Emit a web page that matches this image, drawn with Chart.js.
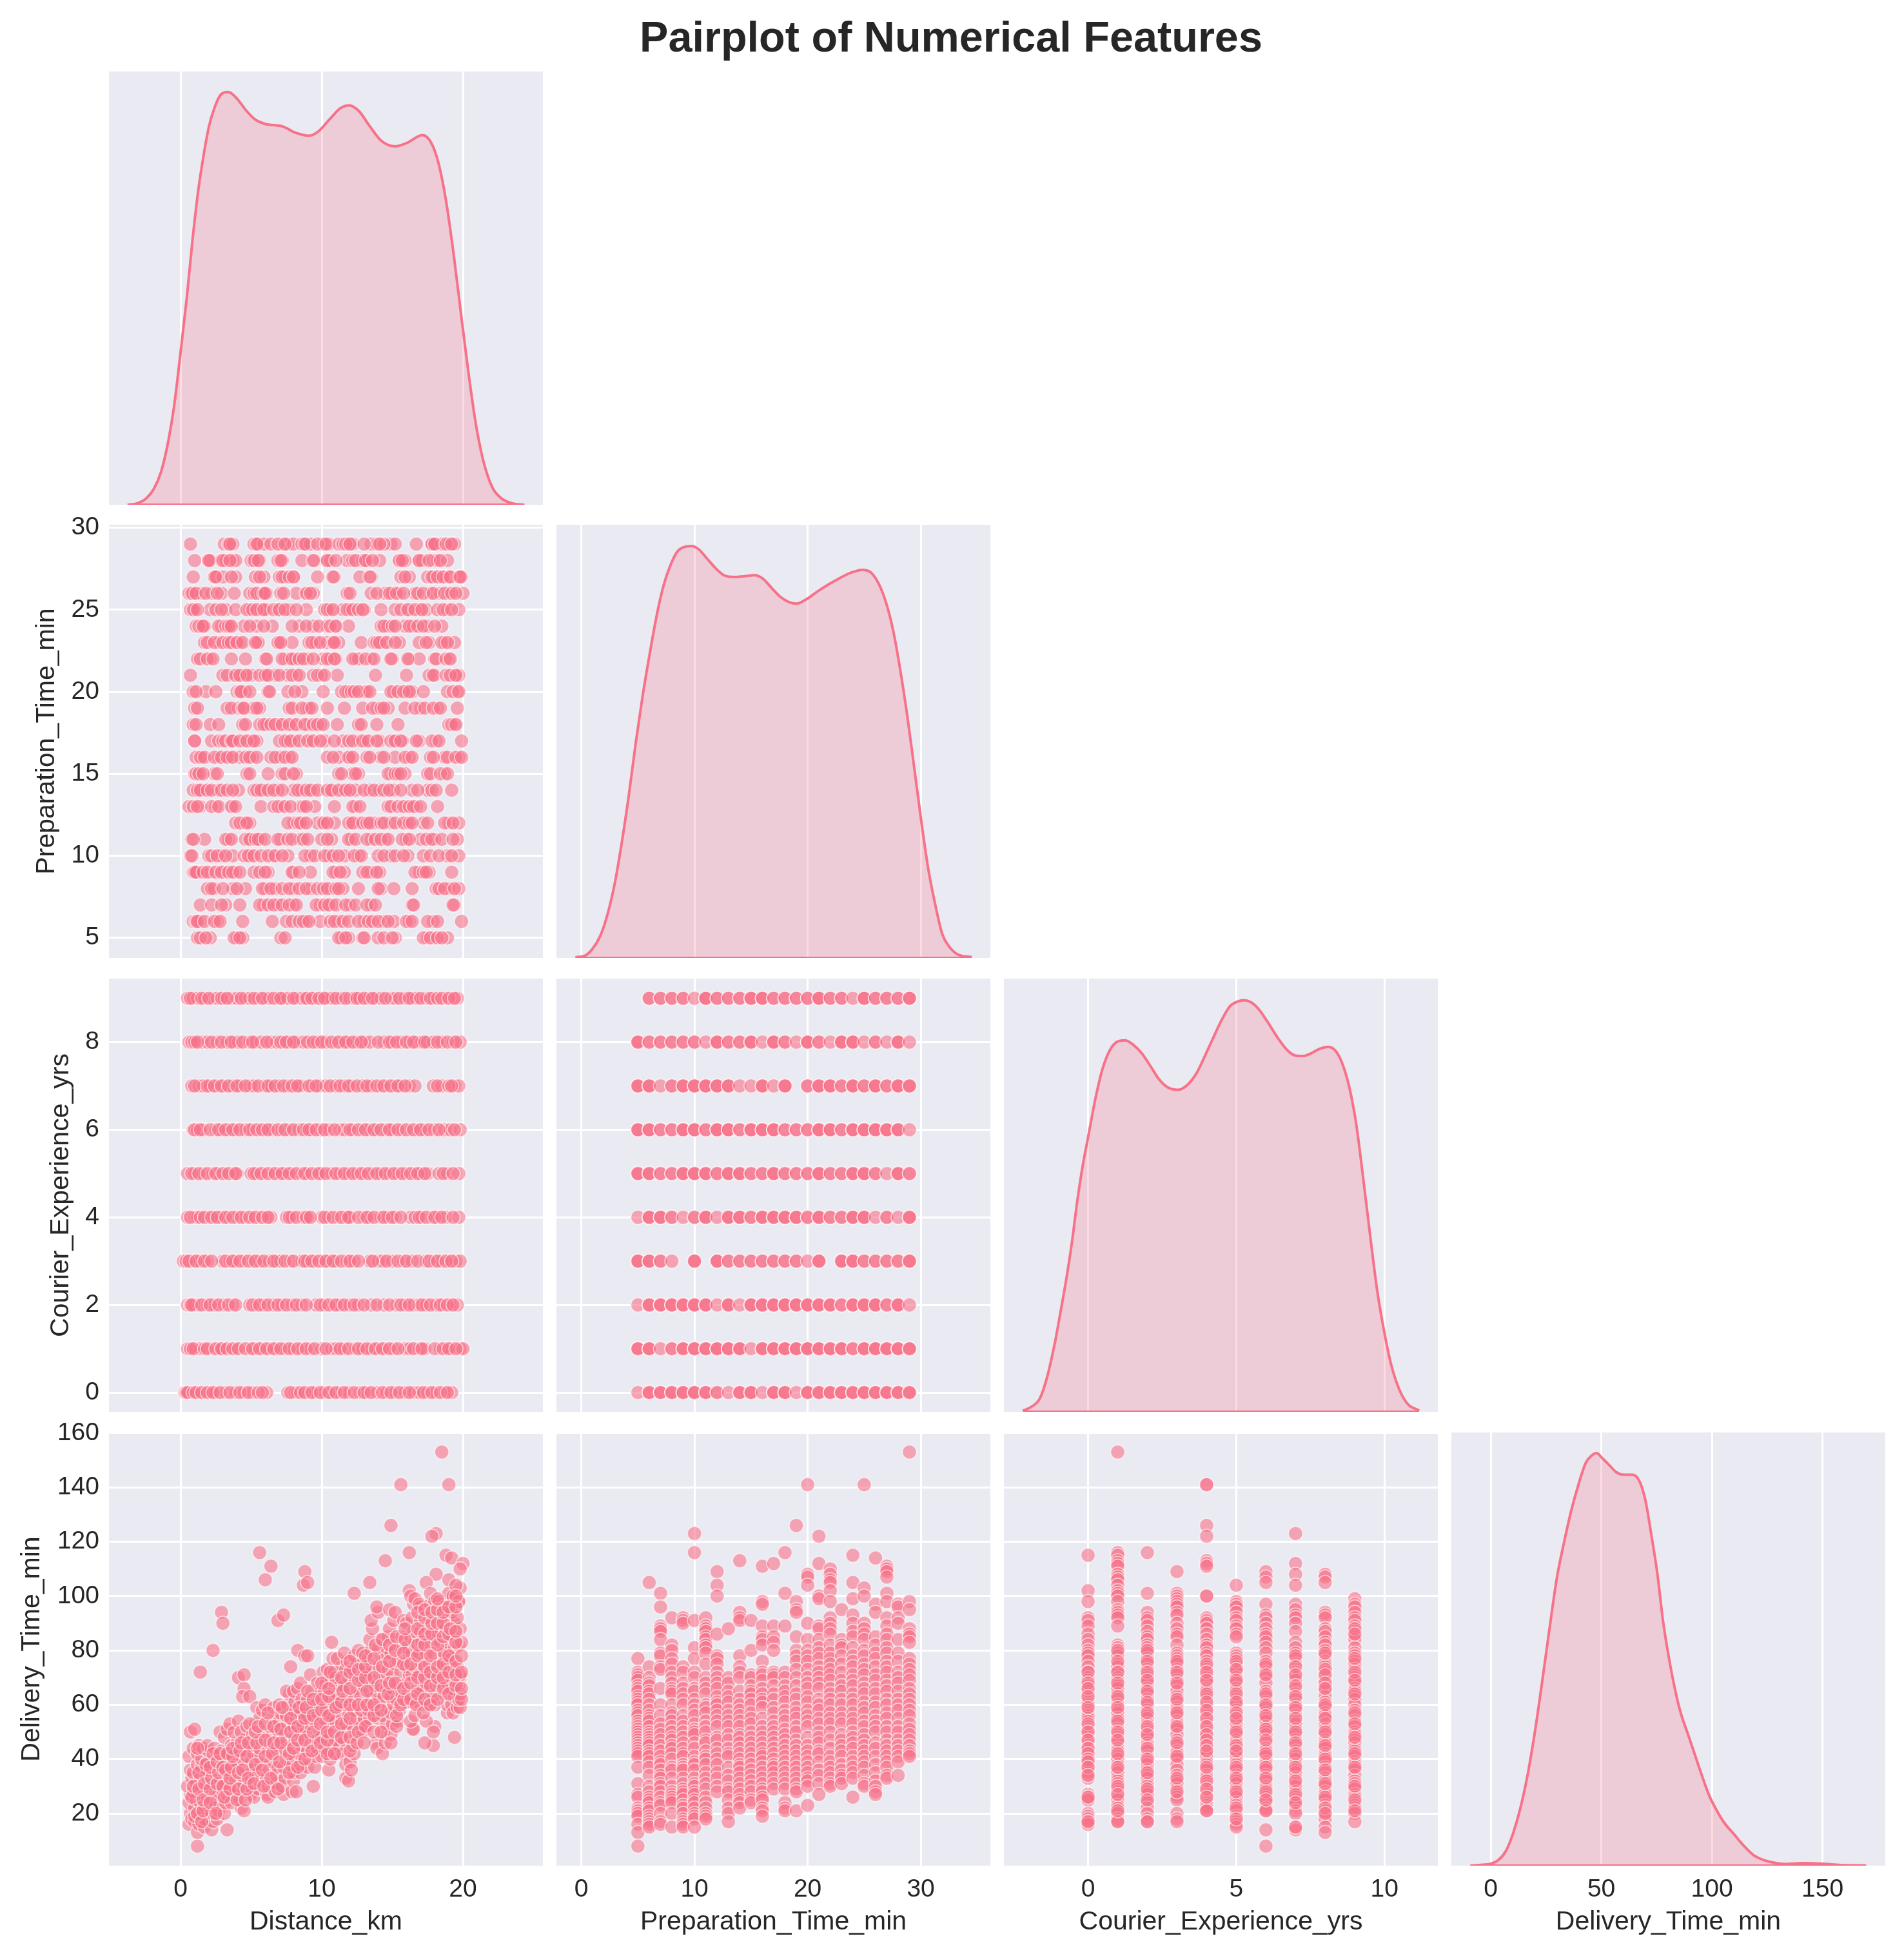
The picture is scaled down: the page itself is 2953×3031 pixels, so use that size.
<!DOCTYPE html>
<html><head><meta charset="utf-8">
<script src="https://cdn.jsdelivr.net/npm/chart.js@4"></script>
<style>
html,body{margin:0;padding:0;background:#fff;width:2953px;height:3031px;overflow:hidden}
canvas{position:absolute}
#t{position:absolute;left:0;top:21px;width:2950px;text-align:center;font:bold 66.6px "Liberation Sans",Arial,sans-serif;color:#262626;line-height:72px}
</style></head><body>
<div id="t">Pairplot of Numerical Features</div>
<script>
const featureNames=["Distance_km","Preparation_Time_min","Courier_Experience_yrs","Delivery_Time_min"];
const distanceTicks=[0,10,20],prepTicksX=[0,10,20,30],expTicksX=[0,5,10],deliveryTicksX=[0,50,100,150];
const prepTicksY=[5,10,15,20,25,30],expTicksY=[0,2,4,6,8],deliveryTicksY=[20,40,60,80,100,120,140,160];

const kdeDistanceX=[-3.75,-3.09,-2.44,-1.91,-1.39,-.87,-.47,0,.45,.84,1.23,1.63,2.02,2.41,2.8,3.38,3.98,4.64,5.29,5.95,7.26,8.18,9.1,9.75,10.54,11.32,11.93,12.63,13.42,14.21,15.2,16.04,17.14,17.75,18.27,18.79,19.32,19.84,20.37,20.89,21.42,22.07,22.73,23.51,24.35];
const kdeDistanceY=[0,.0002,.0009,.0022,.0046,.009,.0138,.0216,.0295,.0374,.0442,.0495,.0537,.0563,.058,.0585,.0576,.0559,.0546,.054,.0536,.0527,.0523,.0529,.0546,.0562,.0566,.0558,.0536,.0516,.0508,.0513,.0524,.0513,.0484,.0432,.0358,.0274,.019,.0117,.0064,.0025,.0009,.0002,0];
const kdePrepX=[-.52,.22,.97,1.71,2.33,2.95,3.56,4.18,4.8,5.42,6.04,6.65,7.28,7.9,8.5,9.13,9.75,10.4,11.1,11.86,12.6,13.47,14.46,15.3,16.06,16.8,17.55,18.3,19.03,19.9,20.9,21.9,22.87,23.86,24.85,25.6,26.3,26.96,27.57,28.2,28.8,29.43,30.05,30.67,31.3,31.9,32.5,33.27,34.5];
const kdePrepY=[.0001,.0002,.001,.0026,.005,.0084,.0129,.0182,.0242,.0296,.0343,.0386,.0421,.0444,.0459,.0464,.0465,.0461,.0451,.044,.0432,.043,.0431,.0432,.0428,.0418,.0408,.0402,.04,.0405,.0414,.0422,.0429,.0435,.0438,.0435,.0422,.04,.0369,.0324,.0274,.0214,.0154,.01,.0059,.0027,.0013,.0004,.0001];
const kdeExpX=[-2.2,-1.92,-1.63,-1.4,-1.12,-.93,-.74,-.55,-.36,-.17,0,.26,.49,.73,.96,1.25,1.53,1.81,2.1,2.38,2.67,3.04,3.37,3.66,3.94,4.22,4.51,4.8,5.04,5.27,5.5,5.78,6.07,6.4,6.73,7.01,7.25,7.53,7.81,8.1,8.34,8.57,8.81,9.05,9.28,9.52,9.75,9.99,10.23,10.51,10.79,11.17];
const kdeExpY=[.0003,.0014,.0038,.0094,.0198,.0286,.0378,.0483,.0607,.0711,.0787,.0903,.0984,.1036,.106,.1065,.1052,.1028,.0992,.0955,.0931,.0923,.0939,.0971,.102,.1072,.1124,.1164,.1176,.118,.1174,.1152,.1116,.1072,.1036,.1021,.102,.1028,.1041,.1046,.1036,.1,.0932,.0823,.0671,.0503,.035,.023,.0134,.0062,.0022,.0004];
const kdeDeliveryX=[-9.2,-5,0,3.55,6.84,10.1,13.4,16.7,20,23.3,26.6,29.9,33.2,36.4,39.7,43,45.7,47.9,50.3,53.6,56.8,60.1,64.1,67.4,70,72.6,75.3,77.9,80.5,83.2,85.8,89.1,92.4,95.7,98.9,102.2,105.5,110.1,114.7,118.7,123.3,127.9,133.2,141,150.3,158,169.7];
const kdeDeliveryY=[0,.00003,.00008,.00024,.00061,.00135,.0024,.0038,.0056,.0077,.0099,.012,.0135,.0148,.0159,.0168,.0171,.0172,.017,.0167,.0164,.0163,.0163,.016,.0152,.0138,.0122,.0102,.0087,.0074,.0064,.0055,.0046,.0037,.0029,.0023,.0018,.0013,.0008,.00045,.00024,.00013,.00007,.00011,.00008,.00003,.00001];

const prepRowLevels=[29,28,27,26,25,24,23,22,21,20,19,18,17,16,15,14,13,12,11,10,9,8,7,6,5];
const distAtPrep=[
[.7,3.1,3.4,3.7,5.2,5.5,5.9,6.4,7.2,7.6,8,8.6,8.9,9.2,10.1,10.5,11.2,11.5,11.9,12.2,13.5,13.9,14.9,15.2,16.7,17.8,18,18.5,19,19.4],
[1,2,2.1,2.9,3.2,3.7,3.9,5,5.3,5.6,6.9,7.2,8.6,9.5,10.4,10.6,11.8,12.2,12.9,13.2,14.1,15.5,15.9,16.9,17.1,17.9,18.2,18.9],
[.9,2.4,2.4,3,3.9,5.3,5.9,7,7.4,8,9.7,10.9,12.7,13.5,15.6,16.2,17.5,17.9,18.4,18.8,19,19.7,19.9],
[.6,.9,1.5,2.2,2.9,3.8,4.9,5.2,5.7,6.1,7.1,8.2,9,9.4,11.8,13.5,14.5,15,15.5,16.6,17.7,18.4,19,20],
[.7,1,2.1,2.5,3.2,3.9,4.9,5.7,6.1,6.9,7.7,8.9,10.2,10.6,11.5,12,13,14.2,15.2,16.2,16.9,17.4,18.2,18.9,19.7],
[1.1,1.5,1.7,2.9,3.5,4.5,5.4,6.5,8.4,9.4,10.4,10.9,11.9,14.2,14.7,15.9,16.5,17.5,18.5],
[1.7,2.7,3.2,3.9,4.2,5.4,5.5,7,7.9,9.1,9.6,10.4,11.2,12.8,13.7,14.4,15.5,16.9,17.6,18.7,19.4],
[1.2,2.1,3.6,4.6,6,7.4,7.7,8.1,9,10.1,10.6,11,12.4,12.6,13.5,15,16.2,16.9,18,19],
[.7,3,4,4.5,5,5.9,6.7,7.6,8.2,9.4,10,11.1,13.8,16,17.6,18,19.4,19.7],
[.9,1.8,2.5,4,4.6,6.2,7.6,8.6,10.1,11.4,11.9,13,13.2,15.1,16,16.4,17.2,18.9,19.6],
[1,3.3,4.1,5.2,5.6,7.7,8.9,9.1,10.4,11.6,12.9,13.9,14.7,15.9,17,18.2,19.6],
[.9,2.1,2.7,4.4,5.6,6.1,7,8,9,9.9,11.1,12.6,13.9,15.4,19,19.4],
[1,2.2,2.7,3.5,4.5,5,5.4,7,7.6,8.1,9.2,10.2,11.5,12.7,13.1,14.1,15.1,15.7,16.9,18.1,19.9],
[1.1,1.5,2.7,3.5,4.2,5.1,6.4,7.1,7.7,10.4,11.2,12,13.2,14.2,15.2,16.2,17.7,18.7,19.7],
[1,1.4,2.4,4.7,6.2,7.2,8.2,11.2,12.2,12.6,14.9,15.1,15.9,17.5,18.7],
[.9,1.5,1.7,2.7,4.1,5.2,5.9,6.9,8,8.6,9.4,10.6,11.5,12.4,13.4,14.1,15.1,16.4,17.5,19.2],
[.6,1.4,2.5,3.7,5.7,6.6,7.2,8.5,9.5,10.9,12.4,14.7,16,16.7,18.2],
[3.9,4.5,4.9,8,8.7,9.7,10.2,10.9,12.2,12.7,13.7,14.9,16,17.2,19,19.7],
[.8,1.7,3.4,5,5.7,7.1,8.5,10,10.7,12.1,13.5,14.5,16,17,18,19.6],
[.7,2,2.9,3.7,5,6.5,7.6,9.2,10.5,11.6,12.6,14,14.9,16.1,17.2,18.9,19.7],
[.9,1.2,2.2,3.1,3.9,5.2,6.2,8,9.2,11,11.6,13.5,14.1,16.9,17.6,19.2],
[1.9,2.4,3.7,4.6,6,6.7,8,9.2,10.7,11.5,12.6,14.2,15.1,16.4,18.1,19,19.7],
[1.4,2.2,3.2,4.2,5.9,6.9,8,9.9,10.7,12,13.5,16.4,19.4],
[.9,1.4,2.6,4.4,6.5,7.5,8.9,9.9,11.2,13,14.4,15.1,16.2,17.9,19.9],
[1.2,2.1,4,4.4,7.1,11.4,11.9,12.9,14,15.2,17.5,18,18.9]];
const distAtPrepHidden=[
[3.5,5.4,6.9,7.4,8.8,9.7,10.3,11.7,12,13,14.4,14.1,17.8,18,18.8,19.2],
[2,3,3.5,5.2,5.5,7.1,9.4,10.4,11,12.4,13.1,13.6,15.5,15.7,16.9,17.6,18.4],
[2.5,3.6,5.6,7.2,7.7,8,10.8,13.4,15.9,17.8,18.2,18.6,19.1,19.8],
[.8,1.1,1.8,2.6,5.4,5.9,6,7.3,8.9,9.2,12,13.9,14.8,15.3,15.8,16.8,17.2,17.9,18.7,19.2,19.5],
[.9,1.2,2.9,4.7,5.1,5.4,5.9,6.6,7,7.4,8.2,10.4,10.8,11.8,12.2,12.6,12.9,15.6,16.1,16.6,17.1,18.6,19.2],
[1.3,1.6,2.7,3.2,3.4,3.6,4.9,5.9,7.9,8.9,9.8,10.6,11,14.4,15,15.2,16.2,16.8,17.2,18],
[1.9,2.4,3,3.4,3.6,4,4.4,5.3,6.9,7.1,9.3,9.9,10.8,10.9,13.9,14.1,14.6,15.2,17.4,18.5,18.9],
[1.4,1.9,2.3,6.1,7.2,7.9,8.4,8.7,9.4,10.4,10.9,12.2,13.1,13.7,14.9,16.1,18.1,18.8,19.1],
[3.3,3.9,4.2,4.7,5.6,6,6.2,7,7.9,8.4,9.7,10.2,17.9,18.8,19.1,19.5],
[1.1,4.2,4.3,4.9,6.3,8.1,11.7,12.1,12.3,12.6,13.4,14.9,15.4,15.8,16.2,19.3,19.7],
[1.2,3.6,4.4,4.5,5.4,7.9,8.6,9.3,13.6,14.2,14.4,16.6,17.3,17.9,18.4],
[1.1,4.6,5.9,6.4,6.7,7.2,7.7,8.2,8.8,9.4,9.7,10.1,12.8,19.2,19.5],
[1,3,3.2,3.6,3.7,4.2,4.7,5.2,7.4,7.8,8.4,9,9.4,9.9,10.9,11.9,12.2,12.9,13.3,13.9,14.9,15.2,15.6,16.7,17.8,18.3],
[1.4,1.7,2.4,2.9,3.3,3.7,4.6,4.9,5.4,6.7,7.4,7.9,10.8,11.9,12.2,13.4,14.4,15.9,16.4,17.9,18.9,19.5,19.9],
[1.1,1.3,1.6,2.6,4.9,7.4,8,11.4,12.4,14.7,15.2,15.4,15.6,17.7,18.4,18.9],
[1.2,1.4,1.9,2.2,2.9,3.3,3.7,5.4,5.7,6.2,6.6,7.2,8.3,8.9,9.2,9.7,10.4,10.7,11.2,11.7,12,13,13.7,14.4,14.8,15.6,16.8,17.8,18.1],
[.9,1.2,2.2,2.7,3.6,3.9,6.9,7.4,7.8,8.7,8.9,12.2,12.7,14.9,15.4,15.8,16.2,16.5,17],
[4.2,4.7,7.6,8.3,8.5,8.9,10.1,10.4,11.9,12.2,12.9,13.2,13.4,14.2,14.4,15.2,15.8,16.2,16.4,17.5,18.7,19.3],
[.9,3.2,3.6,4.6,4.9,5.3,5.5,6,6.9,7.6,7.9,8.7,9,10.4,11.9,12.4,13.2,13.8,14.2,14.7,15.7,16.2,17.4,17.8,18.5,19.3],
[.8,2.2,2.6,3.2,4.5,4.8,5.2,5.7,6.2,6.7,7.2,8.8,9.5,10.2,10.8,11.2,12.3,12.8,14.4,15.2,15.8,17.7,18.3,19.2],
[1,1.1,1.6,1.9,2.5,2.9,3.4,3.7,4.2,5.6,6,7.9,8.4,10.8,11.3,12.9,13.2,13.9,16.6,17.2,17.4],
[2.2,3,4,5.8,6.4,7.2,7.7,8.4,8.9,9.7,10.1,10.4,11,11.2,14,18.3,18.7,19.4],
[2.9,5.6,6.2,6.6,7.2,7.7,8.2,9.6,10.2,10.5,11,11.7,12.4,13.2,13.8,16.5,19.3],
[1.1,1.2,1.7,2.4,2.8,7.9,8.4,8.7,9.1,10.6,10.9,11.5,11.9,12.6,13.3,13.6,14,14.7,16,16.4,17.5,18.2],
[1.4,1.8,3.8,4.2,7.4,11.2,11.7,13,14.4,15,17.2,17.7,18.2,18.5]];

const expRowLevels=[9,8,7,6,5,4,3,2,1,0];
const distAtExp=[
[.5,.9,1.2,1.7,2.3,2.6,3.1,3.6,4,4.6,4.9,5.5,6,6.3,6.9,7.3,7.6,8.2,8.6,9,9.5,10,10.4,10.7,11.4,12,12.3,12.7,13.3,13.8,14.2,14.9,15.2,15.9,16.4,16.7,17.4,17.9,18.8,19.2,19.6],
[.6,1.5,1.9,2.6,3.3,3.8,4.1,4.9,5.3,5.7,6.4,6.8,7.3,7.7,8.2,8.7,9,9.7,10.3,11,11.5,11.9,12.5,13,13.4,14.4,15,15.6,16.2,16.7,17.1,17.5,17.9,18.5,19.3,19.8],
[.8,1.3,1.6,2.1,2.6,3.1,3.7,4.2,4.9,5.2,6,6.4,7,7.6,8.1,8.5,9.3,9.8,10.3,11,11.6,12.1,12.9,13.5,14.2,14.7,15.2,15.6,16.2,16.6,17.9,18.5,19.4,19.7],
[.9,1.2,1.6,2.5,2.9,3.4,3.9,4.6,5.1,5.6,6,6.5,7.2,7.7,8.4,8.9,9.3,9.9,10.5,11.3,11.6,12.2,12.9,13.4,13.9,14.5,15,15.7,16.3,16.8,17.3,18,18.7,19.1,19.8],
[.5,1,1.6,2.3,2.7,3.2,3.7,4,5,5.4,5.9,6.5,7,7.4,7.9,8.6,9,9.6,10,10.7,11.3,11.9,12.5,13,13.6,14.2,14.8,15.4,16,16.6,17,17.5,18.3,18.9,19.7],
[.5,1,1.2,2,2.4,2.9,3.4,4,4.6,5.1,5.6,6,6.4,7.5,7.9,8.7,9,10,10.5,11.2,11.7,12,13,13.4,14.2,14.7,15.2,16.3,16.6,17.1,17.8,18.2,18.8,19.7],
[.2,.9,1.4,1.9,3,3.5,3.9,4.5,5.1,5.6,6.3,6.8,7.1,7.8,8.6,9,9.5,10.1,10.5,11,11.8,12.3,13.4,14,14.3,15,15.8,16.4,17.4,18,18.5,19,19.5,19.8],
[.5,1,1.3,1.9,2.4,3.1,3.7,4.9,5.4,5.9,6.6,7.2,7.9,8.6,9.6,10.2,10.8,11.3,12,12.6,13.5,14.4,15.3,15.9,16.5,16.9,17.4,18.1,18.6,19.1,19.6],
[.5,1.1,1.4,2.3,2.7,3,3.9,4.9,5.3,5.8,6.3,6.8,7.4,8,8.6,9.2,10,10.7,11,11.6,12.4,12.9,13.5,14,14.5,15.1,15.9,16.2,16.9,17.3,18.4,18.8,19.2,19.8,20],
[.3,.6,1.3,1.7,2.1,2.5,3.2,3.9,4.5,5.1,6.1,7.6,8.1,8.3,9.1,9.6,10.2,10.7,11.3,11.9,12.7,13.2,13.9,14.6,15.2,15.9,16.5,16.9,17.5,18.1,18.7,19.2]];
const distAtExpHidden=[
[.7,1.5,2,2.9,3.3,4.3,5.2,5.8,6.6,7.1,8,8.9,9.3,9.8,10.2,11,11.7,12.5,13,13.6,14.5,15.5,16.2,17,17.7,18.2,18.5,19,19.4],
[.8,1,1.2,2.2,2.9,3.6,4.4,5.1,6.1,7.1,7.5,8,9.4,10,10.7,11.2,11.7,12.2,12.8,14,14.8,15.3,16,16.5,17.3,18.2,18.9,19.5],
[1,1.9,2.4,2.9,3.4,4,4.6,5.5,6.2,6.7,7.3,7.9,8.3,9.1,9.6,10.6,11.3,11.9,12.5,13.2,13.9,14.4,14.9,15.4,15.9,18.2,19,19.2],
[1,1.4,2.1,2.7,3.2,3.7,4.2,4.9,5.4,5.8,6.2,6.9,7.4,8,8.7,9.1,9.6,10.2,10.9,12,12.6,13.1,13.7,14.2,14.8,15.4,16,16.5,17,17.6,18.3,19.4],
[.8,1.3,1.9,2.5,3,3.4,3.9,5.2,5.7,6.2,6.7,7.2,7.7,8.2,8.8,9.3,9.8,10.3,11,11.6,12.2,12.8,13.3,13.9,14.5,15.1,15.7,16.3,16.8,17.3,18.6,19.3],
[.7,1.4,1.7,2.2,2.6,3.2,3.7,4.3,4.9,5.3,5.8,6.2,7.7,8.2,8.9,9.2,10.2,10.8,11.4,11.9,12.6,13.2,13.7,14.4,15,15.6,16.9,17.4,18,18.5,19.3],
[.4,.6,1.1,1.7,2.2,3.2,3.7,4.2,4.8,5.3,5.9,6.6,7.4,8,8.8,9.3,9.8,10.3,10.8,11.4,12,12.6,13.6,14.6,15.4,16,16.8,17.6,18.2,18.8,19.2],
[.7,.8,1.5,2.1,2.7,3.4,3.9,5.1,5.6,6.2,6.9,7.5,8.2,8.9,9.9,10.5,11,11.6,12.3,13,13.9,14.8,15.6,16.2,17.1,17.7,18.4,18.9,19.3],
[.7,.9,1.7,1.9,2.5,2.9,3.3,3.7,4.1,4.6,5.1,5.6,6.1,6.6,7.1,7.7,8.3,8.9,9.5,10.3,11.3,11.9,12.6,13.2,13.8,14.3,14.8,15.4,16.5,17.1,18,18.6,19,19.5],
[.4,.5,.9,1.1,1.5,1.9,2.3,2.8,3.5,4.2,4.8,5.5,5.8,7.8,8.5,8.8,9.3,9.9,10.5,11,11.6,12.3,13,13.5,14.3,14.9,15.5,16.2,17.2,17.8,18.4,18.9]];

const prepMinutes=[5,6,7,8,9,10,11,12,13,14,15,16,17,18,19,20,21,22,23,24,25,26,27,28,29];
const prepCountsAtExp=[
[0,2,2,2,2,1,3,2,2,2,3,3,2,2,2,2,3,2,2,1,3,2,2,2,3],
[3,2,2,2,2,2,1,3,2,2,3,1,3,2,1,3,2,1,3,3,1,2,1,3,1],
[3,3,1,2,3,3,3,3,3,1,1,3,1,3,0,2,3,3,2,3,2,3,2,3,3],
[3,3,2,2,3,3,2,3,3,2,3,3,3,2,2,2,3,3,2,3,3,3,3,3,1],
[3,3,2,2,3,3,3,2,3,3,2,2,3,2,2,2,3,2,2,3,3,2,1,3,2],
[1,3,3,2,1,2,3,1,3,3,2,3,3,3,3,2,3,2,2,3,3,1,2,1,3],
[3,3,2,1,0,3,0,3,2,2,2,2,2,2,2,1,3,0,3,3,2,2,2,2,3],
[1,3,3,3,3,3,3,1,3,1,3,3,3,3,3,3,3,3,2,3,3,3,2,3,1],
[3,3,1,2,3,3,3,3,3,3,1,3,3,3,3,3,3,3,3,2,3,3,3,3,3],
[1,3,3,3,3,3,3,2,1,3,3,1,3,3,1,3,3,3,3,3,3,3,3,3,3]];

const delAtPrep=[
[77,72,71,70,69,67,66,65,63,62,61,60,58,57,56,54,53,52,51,50,49,48,47,46,45,44,43,42,41,37,31,27,26,22,21,20,19,16,13,8],
[105,74,70,68,67,65,64,62,60,58,56,55,54,52,50,49,48,47,46,45,43,42,41,39,37,34,30,28,26,25,24,22,21,19,18,17,16,15],
[101,96,89,88,87,84,79,78,74,73,66,60,56,53,51,49,47,45,43,41,39,38,36,34,33,31,30,28,26,24,23,20,17,16],
[92,82,80,77,75,72,70,68,66,65,64,60,57,56,54,52,50,48,47,45,44,42,40,37,36,33,30,28,27,26,25,24,20,15],
[92,91,90,74,72,68,66,64,62,60,56,54,52,50,48,46,44,42,41,38,37,36,33,31,29,28,27,25,23,22,20,18,17,16,15],
[123,116,91,81,77,72,70,66,65,62,60,58,56,53,51,50,49,46,44,41,39,38,36,33,31,30,28,27,25,24,22,20,19,18,15],
[92,89,88,87,85,84,82,81,79,75,70,68,66,64,60,59,57,54,52,50,47,46,43,41,40,38,35,33,31,29,26,24,22,20,19,18],
[109,104,100,86,78,77,75,72,70,68,66,63,61,60,58,56,54,52,48,47,44,42,40,38,35,33,30,28],
[88,70,68,65,63,61,58,56,54,52,49,47,44,42,41,37,34,32,29,28,25,22,20,17],
[113,94,92,91,78,74,72,70,65,62,60,58,56,54,52,49,48,46,44,42,40,38,37,35,33,31,29,27,25,24,22],
[91,80,71,70,67,65,64,62,60,57,55,53,50,48,46,44,42,40,38,36,34,32,30,28,25,24],
[111,98,97,89,85,84,82,76,72,71,69,66,64,62,61,59,55,52,50,48,46,44,42,41,39,37,35,33,31,29,28,26,25,22,21,19],
[112,89,85,83,80,72,71,70,67,64,62,59,57,54,52,50,48,46,44,42,40,38,37,35,33,31,29],
[116,101,89,72,70,67,65,63,61,58,56,54,51,49,47,45,43,41,39,37,35,33,31,29,24,22,21],
[126,98,95,94,85,80,78,76,73,70,67,64,62,59,57,55,52,50,47,45,43,41,39,37,35,33,31,29,28,21],
[141,108,107,104,90,84,80,78,76,73,70,68,66,63,61,58,56,54,52,48,45,43,41,39,37,35,33,32,30,23],
[122,112,100,99,89,88,84,81,79,77,74,72,70,68,66,62,60,58,55,53,50,48,46,43,42,39,36,34,31,27],
[110,108,106,105,102,98,92,90,88,86,82,79,77,75,73,71,69,66,64,62,60,57,55,53,50,47,44,41,39,37,35,33,31,30],
[95,84,82,81,78,75,72,69,67,65,62,60,57,55,53,49,47,45,43,41,38,36,34,33,31],
[115,105,99,93,90,87,85,81,78,76,74,71,69,67,64,62,60,57,55,53,50,48,46,44,41,39,37,35,33,26],
[141,103,100,90,88,86,84,80,78,75,73,71,68,66,64,61,59,57,54,52,49,47,45,43,41,39,37,34,31,30],
[114,97,94,85,82,79,77,74,71,69,66,64,61,59,56,54,52,50,46,44,41,38,35,32,30,28,27],
[111,110,109,107,101,98,92,89,86,84,81,79,76,74,72,69,67,65,62,60,57,55,52,50,47,45,43,41,39,37,34,33],
[97,96,92,90,84,79,76,72,70,68,65,62,60,58,55,52,50,47,45,43,41,39,34],
[153,98,95,88,86,85,83,77,75,73,71,69,66,64,62,60,58,56,53,51,49,47,45,43,42,41]];

const expYears=[0,1,2,3,4,5,6,7,8,9];
const delAtExp=[
[115,102,98,92,91,89,86,84,82,80,79,78,76,74,72,70,69,67,65,64,62,61,60,58,57,56,55,54,52,51,50,49,48,47,46,45,44,43,41,40,38,37,36,35,33,27,26,25,20,19,18,17,16,72,68,66,63,59,53,50,47,44,42,40,39,37,34,17,26],
[153,116,115,113,112,111,108,107,106,104,102,101,100,98,95,94,93,92,89,82,81,79,78,75,74,72,70,69,67,66,64,62,60,58,57,55,53,51,49,48,46,44,43,41,40,38,36,35,33,32,31,29,28,26,25,23,22,20,18,17,17,80,76,72,68,63,59,54,50,47,42,37,30,27,21],
[116,101,94,92,91,89,87,85,84,82,81,79,77,75,73,71,70,68,66,64,62,60,58,56,55,53,51,50,48,46,45,43,41,39,38,36,34,33,31,30,28,27,24,22,20,18,17,17,80,76,72,69,65,61,57,52,49,44,40,35,29,25],
[109,101,100,99,98,97,96,94,93,90,88,86,85,82,79,78,77,75,73,71,69,67,65,63,61,59,58,56,54,53,51,49,47,45,43,42,40,38,36,34,32,31,29,27,26,25,20,18,17,76,72,68,62,57,52,46,41,33,28],
[141,141,126,122,113,112,111,100,100,92,91,90,88,86,84,82,81,79,78,76,74,73,71,70,68,66,65,63,62,60,59,57,56,54,53,51,50,48,46,44,42,41,39,38,36,34,33,31,30,28,27,25,24,23,22,21,21,75,72,69,64,61,58,55,52,49,47,45,43,37,32,29,26],
[104,98,97,96,94,92,91,89,88,86,85,79,78,77,75,74,72,70,68,66,65,63,62,60,58,56,54,53,51,49,47,46,44,42,41,39,38,36,34,32,31,29,27,26,24,23,21,19,17,16,15,76,73,69,64,61,57,55,50,45,43,37,33,28,22,18],
[109,107,105,97,93,92,90,88,86,85,83,81,79,76,74,72,70,68,65,63,61,59,57,55,54,52,50,49,46,44,43,41,39,38,36,34,32,30,29,27,26,24,22,21,21,14,8,75,71,64,60,56,51,47,42,37,33,28,25],
[123,112,108,104,97,95,93,92,90,87,83,81,79,77,75,72,70,69,66,64,62,60,58,56,54,53,51,49,47,45,43,41,40,38,36,35,33,31,30,28,26,25,23,21,20,15,14,78,74,71,67,63,59,55,50,46,42,37,32,27,24,15],
[108,107,105,94,93,92,88,87,85,83,82,80,78,76,75,74,72,70,69,67,65,63,61,59,57,56,53,51,49,47,46,44,42,41,39,37,35,33,32,30,28,27,25,23,21,19,18,15,13,79,73,71,68,66,60,55,50,45,40,36,31,26,22,20],
[99,97,96,94,92,91,89,87,85,84,81,79,78,76,75,73,71,70,68,66,65,63,62,60,58,56,54,52,50,49,47,46,44,43,41,39,38,36,34,32,31,29,27,26,24,23,22,20,17,88,86,77,72,69,64,57,53,48,42,37,30,25,21]];

const distDeliveryPairs=[18.5,153,19,141,15.6,141,14.9,126,18.1,123,17.8,122,16.2,116,5.6,116,6.4,111,6,106,8.8,109,8.7,104,9,105,12.3,101,13.4,105,14.5,113,2.9,94,3,90,2.3,80,1.4,72,6.9,91,7.3,93,8.3,80,8.8,78,9,78,7.8,74,10.7,83,4.1,70,4.5,71,4.5,66,4.4,63,4.9,63,.7,50,1,51,1.2,8,3.3,14,9.4,30,19.4,48,17.9,45,17.3,46,18,52,18.8,115,19.2,114,20,112,19.8,110,18.1,108,19,106,19.8,103,17.4,105,16.2,102,19.2,100,19.7,98,
.6,16,.7,20,.6,24,.7,27,.5,30,.8,33,.7,36,.6,41,.9,44,.8,18,1,17,1,22,1.1,25,.9,28,1.1,31,.9,35,1.2,38,1.2,42,1.3,45,1.2,13,1.3,16,1.4,19,1.4,24,1.5,27,1.5,29,1.4,33,1.5,37,1.5,40,1.6,44,1.7,15,1.7,18,1.8,21,1.7,23,1.9,26,1.8,30,1.8,34,1.9,36,1.9,39,2,43,1.9,45,
2.2,14,2.3,17,2.2,20,2.4,22,2.3,25,2.5,28,2.3,31,2.5,35,2.4,38,2.6,41,2.4,44,2.6,18,2.7,21,2.8,24,2.7,27,2.9,29,2.8,33,2.9,36,2.8,37,3,40,2.9,43,2.8,50,3.1,48,3.1,20,3.2,24,3.3,27,3.2,31,3.4,34,3.3,38,3.5,41,3.4,42,3.6,45,3.3,51,3.5,53,3.7,27,3.6,24,3.8,30,3.9,32,3.8,36,4,39,3.9,43,4,46,3.8,50,4.1,54,
4.2,25,4.3,22,4.5,21,4.4,28,4.5,31,4.3,34,4.6,37,4.4,40,4.6,43,4.5,47,4.3,50,4.7,52,5,27,4.9,30,5,33,5.1,36,5,39,5.2,42,5,45,5.1,49,5.3,53,5.4,59,5.2,26,5.5,29,5.6,32,5.5,35,5.7,38,5.5,41,5.6,44,5.7,47,5.9,50,5.6,55,5.8,58,6,60,
6.1,27,6.2,26,6.2,30,6.1,33,6.3,36,6.4,39,6.2,43,6.3,46,6.5,49,6.3,52,6.5,55,6.6,59,6.7,28,6.8,31,6.8,34,6.9,37,6.7,42,6.9,45,7,48,6.8,51,7,54,7.1,57,7,60,7.3,27,7.2,30,7.4,33,7.3,37,7.5,40,7.4,43,7.5,47,7.4,50,7.6,53,7.5,56,7.6,60,7.7,64,7.5,65,7.9,28,8,32,8,35,7.8,38,8.1,41,7.9,45,8.1,48,8,52,8.2,55,8,58,8.1,61,8,65,8.3,66,
8.2,28,8.5,35,8.5,38,8.4,42,8.6,45,8.5,49,8.7,52,8.6,54,8.5,57,8.7,60,8.6,62,8.5,68,9,37,9.1,40,9,43,9.2,46,8.9,50,9.1,53,9,56,9.2,59,9,62,9.3,65,9.2,71,9.5,37,9.6,41,9.7,44,9.6,47,9.8,51,9.5,54,9.7,57,9.6,60,9.8,64,9.7,68,
10,41,10.2,44,10,48,10.3,52,10.1,55,10.3,58,10.1,61,10.2,65,10.3,68,10.1,72,10.4,73,10.5,36,10.6,40,10.5,43,10.7,46,10.6,49,10.8,54,10.6,56,10.8,60,10.7,62,10.9,65,10.7,69,10.9,72,10.8,77,11.1,42,11.2,45,11,47,11.2,51,11,54,11.3,57,11.2,60,11.1,64,11.3,67,11,70,11.4,74,11.1,77,11.5,42,11.7,33,11.9,32,11.7,38,11.6,47,11.8,50,11.7,53,11.9,56,11.7,60,11.8,63,11.6,67,11.9,70,11.7,73,11.8,76,11.6,79,
12,39,12.1,36,12.3,42,12.2,45,12.4,49,12.2,52,12.5,55,12.3,58,12.4,60,12.2,63,12.5,66,12.3,70,12.2,73,12.5,75,12.3,78,12.6,80,12.9,50,12.7,53,13,55,12.8,58,13,60,12.7,64,13,67,12.8,70,13,72,12.8,75,12.9,79,13.2,52,13.4,55,13.3,58,13.5,62,13.4,65,13.6,68,13.3,71,13.6,74,13.3,77,13.5,80,13.4,84,13.6,88,13.5,91,13.8,46,13.9,44,14,55,13.9,58,14,61,13.9,64,13.8,67,14.1,71,14,74,14.2,78,14,81,14.2,84,14,94,13.9,96,
14.3,42,14.5,46,14.4,50,14.6,53,14.3,56,14.7,59,14.4,63,14.6,66,14.5,70,14.7,73,14.5,77,14.6,81,14.7,85,14.8,88,14.9,49,15,53,14.9,57,15.1,60,14.9,63,15,66,15,71,15.2,75,14.9,79,15,84,15.1,91,14.8,95,15.2,94,15.4,54,15.5,58,15.3,62,15.5,65,15.4,68,15.6,72,15.4,76,15.6,81,15.7,85,15.8,91,
16,61,16.1,64,16,68,16.2,71,16,74,16.2,78,16,81,16.3,85,16,90,16.4,51,16.5,51,16.3,54,16.6,56,16.4,61,16.6,65,16.4,71,16.6,74,16.4,79,16.6,83,16.5,87,16.4,92,16.5,97,16.3,100,16.6,99,17,60,17,64,17.1,67,16.9,71,17.1,75,16.9,79,17.1,83,17,87,17,91,17,96,16.9,97,17.4,54,17.5,60,17.6,64,17.4,68,17.5,71,17.6,75,17.4,79,17.6,83,17.5,88,17.6,92,17.7,97,17.7,101,17.9,50,18,60,17.9,63,18.1,67,17.9,71,18.1,75,17.9,79,18,84,18.1,87,18,92,18,98,
18.3,68,18.5,72,18.4,76,18.6,79,18.4,83,18.5,87,18.4,92,18.6,97,18.3,98,18.9,57,18.9,60,18.7,64,18.9,68,18.8,72,18.9,75,18.7,79,18.9,83,18.8,88,18.9,92,18.7,96,19,101,19.2,60,19.3,57,19.4,63,19.2,66,19.3,69,19.4,73,19.2,77,19.4,81,19.3,85,19.4,90,19.2,94,19.3,100,19.5,104,19.6,59,19.8,59,19.7,62,19.8,64,19.7,67,19.8,70,19.6,74,19.8,71,19.7,82,19.9,83,19.8,88,19.7,98,19.6,92];
const distDeliveryHidden=[.8,26,.9,30,1,19,1.2,20,1.3,29,1.3,35,1.2,44,1.5,17,1.6,21,1.6,25,1.7,31,1.8,38,2.1,24,2.1,29,2.2,33,2.1,37,2.3,42,2.5,20,2.6,31,2.7,35,2.6,39,2.8,42,3,30,3,37,3.1,26,3.2,36,3.3,42,3.5,29,3.5,33,3.6,37,3.7,41,3.7,44,4,25,4.1,29,4.1,35,4.2,43,4.3,46,4.4,36,4.6,25,4.7,29,4.8,33,4.7,41,4.8,46,4.9,53,5.2,31,5.3,38,5.4,46,5.3,50,5.5,52,5.9,30,5.8,36,6,41,6,47,6,53,6.2,57,6.4,33,6.5,42,6.6,52,6.6,46,6.9,29,7,39,7.1,46,7.1,51,7.2,59,7.7,35,7.7,42,7.8,50,7.8,55,8,44,8.3,37,8.3,47,8.3,52,8.4,59,8.8,40,8.8,47,8.8,55,8.9,59,9,65,9.3,43,9.4,50,9.4,56,9.4,62,9.9,46,9.9,53,10,58,10,62,10,68,10.4,42,10.4,47,10.4,50,10.5,56,10.5,63,10.5,66,10.6,72,10.9,42,10.9,50,11,59,11.4,48,11.4,53,11.4,61,11.5,65,11.4,70,12,43,12,48,12,55,12,60,12,66,12,72,12,76,12.5,46,12.6,50,12.6,60,12.6,69,12.6,73,13,46,13.1,52,13.2,60,13.2,65,13.1,70,13.1,74,13.1,78,13.7,50,13.7,56,13.7,60,13.7,70,13.7,77,13.8,82,14.2,50,14.2,58,14.2,67,14.3,74,14.3,84,14.9,46,14.7,64,14.8,68,14.8,76,14.8,82,15.3,52,15.3,56,15.2,68,15.2,80,15.3,85,15.6,60,15.8,62,15.8,66,15.8,75,15.8,79,15.9,84,15.9,88,16.3,62,16.3,68,16.3,75,16.7,60,16.8,64,16.8,70,16.8,78,16.8,82,16.8,88,16.8,94,17.2,57,17.3,62,17.3,70,17.3,74,17.3,82,17.3,86,17.3,92,17.3,95,17.7,60,17.7,67,17.7,72,17.7,78,17.8,86,17.8,90,17.8,94,18.2,62,18.2,70,18.2,74,18.2,82,18.2,90,18.2,95,18.2,99,18.6,66,18.6,70,18.6,75,18.6,85,18.6,90,18.6,94,19,64,19,72,19,78,19,86,19,96,19.1,88,19.5,67,19.5,71,19.5,76,19.5,83,19.5,87,19.5,96,19.5,100,19.9,62,19.9,66,19.9,72,19.9,78];

const RANGE_X=[[-5.07,25.66],[-2.2,36.15],[-2.84,11.8],[-17.8,178.4]];
const RANGE_Y=[[.8,160.2],[3.77,30.18],[-.44,9.45],[.8,160.2]];
const DENSITY_TOP=[.0614,.0489,.1242,.01806];
const COL_X=[169,863,1557,2251],ROW_Y=[111,814,1518,2222],SIZE=[673,671.5];
const INK='#262626',HUE='#f77189',BG='#eaeaf2';
const FONT='"Liberation Sans",Arial,sans-serif';
const TICK_SIZE=39,LABEL_SIZE=41;
const Y_TITLE_PAD=[0,48,70,25];

Chart.defaults.font.family=FONT;
Chart.defaults.color=INK;

const bgPlugin={id:'bg',beforeDraw(c){const a=c.chartArea,g=c.ctx;g.save();g.fillStyle=BG;g.fillRect(a.left,a.top,a.right-a.left,a.bottom-a.top);g.restore();}};

function scatterSet(points){return{type:'scatter',data:points,showLine:false,pointRadius:11,pointBorderWidth:1.6,pointBackgroundColor:'rgba(247,113,137,.6)',pointBorderColor:'rgba(255,255,255,.6)',pointHoverRadius:11};}
function kdeSets(xs,ys){
  const pts=xs.map((x,i)=>({x,y:ys[i]}));
  return[
    {type:'line',data:pts,borderColor:HUE,borderWidth:4,pointRadius:0,cubicInterpolationMode:'monotone',fill:'origin',backgroundColor:'rgba(247,113,137,.25)'},
    {type:'line',data:[{x:xs[0],y:0},{x:xs[xs.length-1],y:0}],borderColor:HUE,borderWidth:4,pointRadius:0,fill:false}
  ];
}
function panel(row,col,xTicks,yTicks,datasets){
  const isLeft=col===0,isBottom=row===3,isDiag=row===col;
  const L=isLeft?COL_X[0]:0,B=isBottom?138:0,T=(isLeft&&row>0)?24:0;
  const cv=document.createElement('canvas');
  const w=L+SIZE[0],h=T+Math.round(ROW_Y[row]+SIZE[1])-ROW_Y[row]+B;
  cv.width=w;cv.height=h;cv.style.left=(isLeft?0:COL_X[col])+'px';cv.style.top=(ROW_Y[row]-T)+'px';cv.style.width=w+'px';cv.style.height=h+'px';
  document.body.appendChild(cv);
  const fixed=(s,prop,v)=>{s[prop]=v;s.paddingLeft=s.paddingRight=s.paddingTop=s.paddingBottom=0;};
  new Chart(cv,{data:{datasets},plugins:[bgPlugin],options:{
    responsive:false,animation:false,devicePixelRatio:1,events:[],
    layout:{padding:{top:T,left:0,right:0,bottom:0},autoPadding:false},
    plugins:{legend:{display:false},tooltip:{enabled:false},title:{display:false}},
    scales:{
      x:{type:'linear',position:'bottom',min:RANGE_X[col][0],max:RANGE_X[col][1],
        afterBuildTicks(a){a.ticks=xTicks.map(value=>({value}));},
        afterFit(s){fixed(s,'height',B);},
        border:{display:false},
        grid:{color:'#fff',lineWidth:3,drawTicks:false},
        ticks:{display:isBottom,autoSkip:false,maxRotation:0,padding:14,color:INK,font:{size:TICK_SIZE,family:FONT},callback:v=>String(v)},
        title:{display:isBottom,text:featureNames[col],color:INK,font:{size:LABEL_SIZE,family:FONT},padding:{top:0,bottom:26}}},
      y:{type:'linear',position:'left',min:isDiag?0:RANGE_Y[row][0],max:isDiag?DENSITY_TOP[row]:RANGE_Y[row][1],
        afterBuildTicks(a){a.ticks=yTicks.map(value=>({value}));},
        afterFit(s){fixed(s,'width',L);},
        border:{display:false},
        grid:{color:'#fff',lineWidth:3,drawTicks:false},
        ticks:{display:isLeft&&row>0,autoSkip:false,padding:15,color:INK,font:{size:TICK_SIZE,family:FONT},callback:v=>String(v)},
        title:{display:isLeft&&row>0,text:featureNames[row],color:INK,font:{size:LABEL_SIZE,family:FONT},padding:{top:Y_TITLE_PAD[row],bottom:0}}}
    }}});
}

const prepDist=[];prepRowLevels.forEach((p,i)=>distAtPrep[i].concat(distAtPrepHidden[i]).forEach(x=>prepDist.push({x,y:p})));
const expDist=[];expRowLevels.forEach((e,i)=>distAtExp[i].concat(distAtExpHidden[i]).forEach(x=>expDist.push({x,y:e})));
const expPrep=[];expRowLevels.forEach((e,i)=>prepCountsAtExp[i].forEach((n,j)=>{for(let k=0;k<n;k++)expPrep.push({x:prepMinutes[j],y:e});}));
const delDist=[];const allPairs=distDeliveryPairs.concat(distDeliveryHidden);for(let i=0;i<allPairs.length;i+=2)delDist.push({x:allPairs[i],y:allPairs[i+1]});
const delPrep=[];prepMinutes.forEach((p,i)=>delAtPrep[i].forEach(y=>delPrep.push({x:p,y})));
const delExp=[];expYears.forEach((e,i)=>delAtExp[i].forEach(y=>delExp.push({x:e,y})));

panel(0,0,distanceTicks,[],kdeSets(kdeDistanceX,kdeDistanceY));
panel(1,0,distanceTicks,prepTicksY,[scatterSet(prepDist)]);
panel(1,1,prepTicksX,[],kdeSets(kdePrepX,kdePrepY));
panel(2,0,distanceTicks,expTicksY,[scatterSet(expDist)]);
panel(2,1,prepTicksX,expTicksY,[scatterSet(expPrep)]);
panel(2,2,expTicksX,[],kdeSets(kdeExpX,kdeExpY));
panel(3,0,distanceTicks,deliveryTicksY,[scatterSet(delDist)]);
panel(3,1,prepTicksX,deliveryTicksY,[scatterSet(delPrep)]);
panel(3,2,expTicksX,deliveryTicksY,[scatterSet(delExp)]);
panel(3,3,deliveryTicksX,[],kdeSets(kdeDeliveryX,kdeDeliveryY));
</script>
</body></html>
